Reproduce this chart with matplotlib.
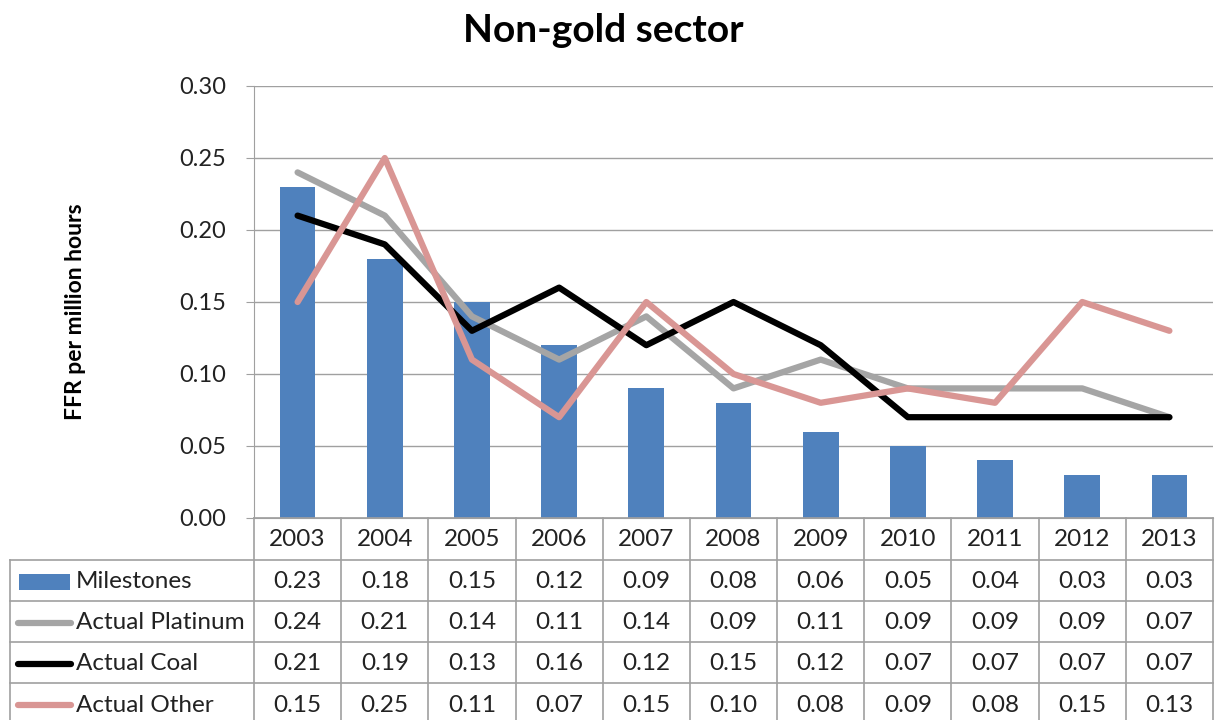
import matplotlib
matplotlib.use("Agg")
import matplotlib.pyplot as plt
import matplotlib.transforms as mtransforms
from matplotlib.lines import Line2D
from matplotlib.patches import Rectangle

years = ["2003", "2004", "2005", "2006", "2007", "2008", "2009", "2010", "2011", "2012", "2013"]
milestones = [0.23, 0.18, 0.15, 0.12, 0.09, 0.08, 0.06, 0.05, 0.04, 0.03, 0.03]
platinum = [0.24, 0.21, 0.14, 0.11, 0.14, 0.09, 0.11, 0.09, 0.09, 0.09, 0.07]
coal = [0.21, 0.19, 0.13, 0.16, 0.12, 0.15, 0.12, 0.07, 0.07, 0.07, 0.07]
other = [0.15, 0.25, 0.11, 0.07, 0.15, 0.10, 0.08, 0.09, 0.08, 0.15, 0.13]
series_names = ["Milestones", "Actual Platinum", "Actual Coal", "Actual Other"]
yticks = [0.00, 0.05, 0.10, 0.15, 0.20, 0.25, 0.30]

c_bar = "#4F81BD"
c_plat = "#A5A5A5"
c_coal = "#000000"
c_other = "#D99694"
grid_c = "#A0A0A0"
txt_c = "#222222"

plt.rcParams['font.family'] = ['Lato', 'DejaVu Sans']

W, H = 1216, 720
fig = plt.figure(figsize=(W / 100, H / 100), dpi=100)

def fx(px):
    return px / W

def fy(py):
    return 1 - py / H

ax_l, ax_r, ax_t, ax_b = 254, 1213, 86, 518
ax = fig.add_axes([fx(ax_l), fy(ax_b), fx(ax_r) - fx(ax_l), fy(ax_t) - fy(ax_b)])

x = list(range(len(years)))
ax.bar(x, milestones, width=0.41, color=c_bar, zorder=2)
lw = 4.5
ax.plot(x, platinum, color=c_plat, lw=lw, solid_capstyle='round', solid_joinstyle='round', zorder=3)
ax.plot(x, coal, color=c_coal, lw=lw, solid_capstyle='round', solid_joinstyle='round', zorder=4)
ax.plot(x, other, color=c_other, lw=lw, solid_capstyle='round', solid_joinstyle='round', zorder=5)

ax.set_xlim(-0.5, len(years) - 0.5)
ax.set_ylim(0, 0.30)
ax.set_yticks(yticks)
ax.set_yticklabels([f"{v:.2f}" for v in yticks], fontsize=17, color=txt_c)
ax.set_xticks([])
ax.yaxis.grid(True, color=grid_c, lw=1.0, zorder=0)
ax.set_axisbelow(True)
for s in ['top', 'right']:
    ax.spines[s].set_visible(False)
ax.spines['left'].set_color(grid_c)
ax.spines['bottom'].set_color(grid_c)
ax.tick_params(axis='y', length=6, color=grid_c, pad=14)

fig.text(fx(603), fy(30), "Non-gold sector", ha='center', va='center', fontsize=28, fontweight='bold')
fig.text(fx(75), fy(312), "FFR per million hours", ha='center', va='center', rotation=90,
         fontsize=16.5, fontweight='bold')

# Data table beneath the chart
trans = mtransforms.blended_transform_factory(ax.transData, fig.transFigure)
row_edges = [518, 560, 601, 642, 683, 725]
tab_left = 10
lc = grid_c
tlw = 1.2
fig.add_artist(Line2D([fx(ax_l), fx(ax_r)], [fy(518), fy(518)], color=lc, lw=tlw))
for ry in row_edges[1:]:
    fig.add_artist(Line2D([fx(tab_left), fx(ax_r)], [fy(ry), fy(ry)], color=lc, lw=tlw))
fig.add_artist(Line2D([fx(tab_left), fx(tab_left)], [fy(560), fy(725)], color=lc, lw=tlw))
for i in range(len(years) + 1):
    xe = i - 0.5
    fig.add_artist(Line2D([xe, xe], [fy(518), fy(725)], color=lc, lw=tlw, transform=trans))

fs = 17.5
hy = (row_edges[0] + row_edges[1]) / 2 + 1
for i, yr in enumerate(years):
    fig.text(i, fy(hy), yr, transform=trans, ha='center', va='center', fontsize=fs, color=txt_c)

rows = [milestones, platinum, coal, other]
colors = [c_bar, c_plat, c_coal, c_other]
for r, (vals, name, col) in enumerate(zip(rows, series_names, colors)):
    cy = (row_edges[r + 1] + row_edges[r + 2]) / 2 + 1
    for i, v in enumerate(vals):
        fig.text(i, fy(cy), f"{v:.2f}", transform=trans, ha='center', va='center', fontsize=fs, color=txt_c)
    if r == 0:
        fig.add_artist(Rectangle((fx(19), fy(cy + 8)), fx(70) - fx(19), fy(cy - 8) - fy(cy + 8),
                                 facecolor=col, edgecolor='none'))
    else:
        fig.add_artist(Line2D([fx(18), fx(71)], [fy(cy), fy(cy)], color=col, lw=lw,
                              solid_capstyle='round'))
    fig.text(fx(76), fy(cy), name, ha='left', va='center', fontsize=fs, color=txt_c)

fig.savefig("out.png", dpi=100)
